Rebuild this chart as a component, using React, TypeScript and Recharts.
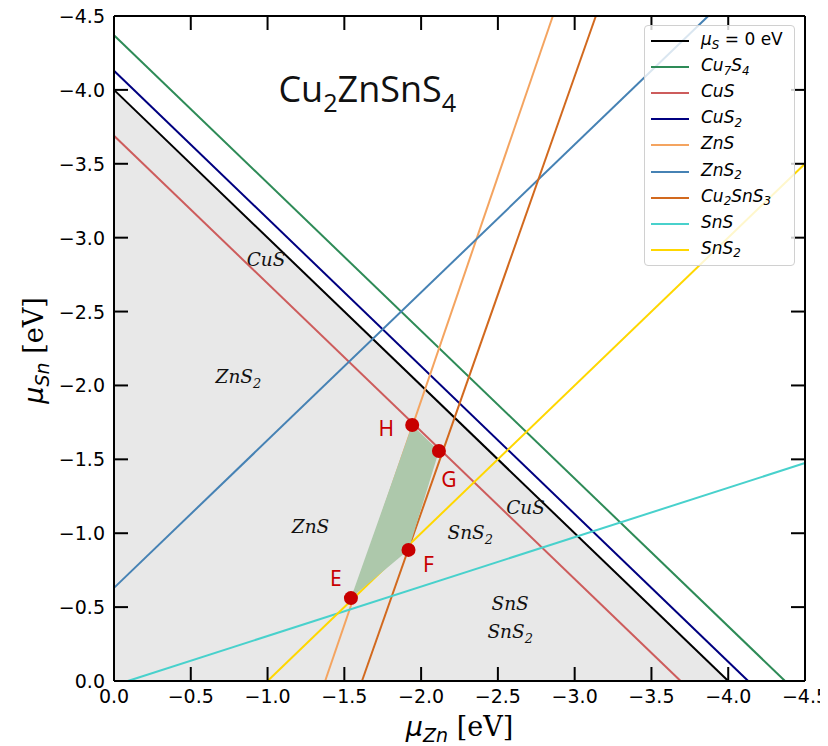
import React from 'react';
import { ComposedChart, Line, Area, Scatter, XAxis, YAxis, Label } from 'recharts';

// ---------- data (μZn, μSn in eV) ----------
const TICKS = [0, -0.5, -1, -1.5, -2, -2.5, -3, -3.5, -4, -4.5];

const MU_S0 = [{ x: 0, y: -4.0 }, { x: -4.0, y: 0 }];
const CU7S4 = [{ x: 0, y: -4.37 }, { x: -4.37, y: 0 }];
const CUS = [{ x: 0, y: -3.69 }, { x: -3.69, y: 0 }];
const CUS2 = [{ x: 0, y: -4.13 }, { x: -4.13, y: 0 }];
const ZNS = [{ x: -1.375, y: 0 }, { x: -2.858, y: -4.5 }];
const ZNS2 = [{ x: 0, y: -0.63 }, { x: -3.87, y: -4.5 }];
const CU2SNS3 = [{ x: -1.615, y: 0 }, { x: -3.138, y: -4.5 }];
const SNS = [{ x: -0.09, y: 0 }, { x: -4.5, y: -1.475 }];
const SNS2 = [{ x: -1.0, y: 0 }, { x: -4.5, y: -3.5 }];

const STABLE_REGION = [{ x: 0, y: -4.0 }, { x: -4.0, y: 0 }];

const CORNER_LABELS = ['E', 'F', 'G', 'H'];
const CORNER_X = [-1.543, -1.918, -2.116, -1.942];
const CORNER_Y = [-0.561, -0.887, -1.556, -1.732];
const CORNERS = CORNER_LABELS.map((label, i) => ({ x: CORNER_X[i], y: CORNER_Y[i], label }));

const REGION_TEXT = ['CuS', 'ZnS_2', 'ZnS', 'SnS_2', 'CuS', 'SnS', 'SnS_2'];
const REGION_X = [-0.99, -0.81, -1.28, -2.32, -2.68, -2.58, -2.58];
const REGION_Y = [-2.85, -2.06, -1.04, -1.0, -1.17, -0.52, -0.33];
const REGIONS = REGION_TEXT.map((t, i) => ({ x: REGION_X[i], y: REGION_Y[i], text: t }));

const SERIES_NAMES = ['μ_S = 0 eV', 'Cu_7S_4', 'CuS', 'CuS_2', 'ZnS', 'ZnS_2', 'Cu_2SnS_3', 'SnS', 'SnS_2'];
const SERIES_DATA = [MU_S0, CU7S4, CUS, CUS2, ZNS, ZNS2, CU2SNS3, SNS, SNS2];
const SERIES_COLORS = ['#000000', '#2e8b57', '#cd5c5c', '#000080', '#f4a460', '#4682b4', '#d2691e', '#48d1cc', '#ffd700'];

const TITLE = 'Cu_2ZnSnS_4';
const TITLE_POS = [{ x: -1.65, y: -3.92 }];

// inward tick marks on all four sides of the frame (from the tick values)
const X_MIN = -4.5;
const TICK_MARKS = [
  ...TICKS.map((t) => ({ x: t, y: 0, side: 'bottom' })),
  ...TICKS.map((t) => ({ x: t, y: X_MIN, side: 'top' })),
  ...TICKS.map((t) => ({ x: 0, y: t, side: 'left' })),
  ...TICKS.map((t) => ({ x: X_MIN, y: t, side: 'right' })),
];

// ---------- styles ----------
const W = 820;
const H = 738;
const LABEL_OFFSETS: Record<string, [number, number]> = {
  E: [-15, -20],
  F: [20, 15],
  G: [10, 28],
  H: [-26, 3],
};
const RED = '#c80000';
const TICK_LEN = 14;
const TICK_W = 2;
const TICK_FONT = { fontFamily: 'DejaVu Sans', fontSize: 19, fill: '#000' };
const TICK_DIR: Record<string, [number, number]> = {
  bottom: [0, -1],
  top: [0, 1],
  left: [1, 0],
  right: [-1, 0],
};

function parseRich(s: string) {
  const parts: { t: string; sub: boolean }[] = [];
  let i = 0;
  let cur = '';
  while (i < s.length) {
    if (s[i] === '_') {
      if (cur) parts.push({ t: cur, sub: false });
      cur = '';
      parts.push({ t: s[i + 1], sub: true });
      i += 2;
    } else {
      cur += s[i];
      i++;
    }
  }
  if (cur) parts.push({ t: cur, sub: false });
  return parts;
}

function svgRich(s: string, fs: number) {
  const parts = parseRich(s);
  const shift = fs * 0.28;
  let down = false;
  return parts.map((p, k) => {
    let dy = 0;
    if (p.sub && !down) { dy = shift; down = true; }
    else if (!p.sub && down) { dy = -shift; down = false; }
    return (
      <tspan key={k} dy={dy} fontSize={p.sub ? fs * 0.7 : fs}>{p.t}</tspan>
    );
  });
}

function htmlRich(s: string) {
  const parts = parseRich(s);
  return parts.map((p, k) =>
    p.sub ? (
      <span key={k} style={{ fontSize: '0.7em', position: 'relative', top: '0.3em' }}>{p.t}</span>
    ) : (
      <span key={k}>{p.t}</span>
    )
  );
}

const fmt = (v: number) => (v === 0 ? '0.0' : '\u2212' + Math.abs(v).toFixed(1));

const BottomTick = (p: any) => (
  <text x={p.x} y={p.y + 22} textAnchor="middle" {...TICK_FONT}>{fmt(p.payload.value)}</text>
);
const LeftTick = (p: any) => (
  <text x={p.x - 9} y={p.y + 7} textAnchor="end" {...TICK_FONT}>{fmt(p.payload.value)}</text>
);
const NoTick = () => <g />;

const TickMarkShape = (props: any) => {
  const { cx, cy, payload } = props;
  const [dx, dy] = TICK_DIR[payload.side];
  return (
    <line x1={cx} y1={cy} x2={cx + dx * TICK_LEN} y2={cy + dy * TICK_LEN} stroke="#000" strokeWidth={TICK_W} />
  );
};

const RegionShape = (props: any) => {
  const { cx, cy, payload } = props;
  return (
    <text x={cx} y={cy + 6} textAnchor="middle" fontFamily="DejaVu Serif" fontStyle="italic" fontSize={18.5} fill="#111">
      {svgRich(payload.text, 18.5)}
    </text>
  );
};

const CornerShape = (props: any) => {
  const { cx, cy, payload } = props;
  const [dx, dy] = LABEL_OFFSETS[payload.label];
  return (
    <g>
      <circle cx={cx} cy={cy} r={7} fill={RED} />
      <text x={cx + dx} y={cy + dy + 7.5} textAnchor="middle" fontFamily="Noto Sans" fontSize={21} fill={RED}>
        {payload.label}
      </text>
    </g>
  );
};

const TitleShape = (props: any) => {
  const { cx, cy } = props;
  return (
    <text x={cx} y={cy} textAnchor="middle" fontFamily="Open Sans" fontSize={36} fill="#111">
      {svgRich(TITLE, 36)}
    </text>
  );
};

const XTitle = (props: any) => {
  const vb = props.viewBox || { x: 106, y: 673, width: 691, height: 65 };
  return (
    <text x={vb.x + vb.width / 2} y={vb.y + 55} textAnchor="middle" fontSize={27} fill="#000" fontFamily="DejaVu Serif">
      <tspan fontFamily="DejaVu Sans" fontStyle="italic">μ</tspan>
      <tspan fontFamily="DejaVu Sans" fontStyle="italic" fontSize={19} dy={6}>Zn</tspan>
      <tspan dy={-6}> [eV]</tspan>
    </text>
  );
};

const YTitle = (props: any) => {
  const vb = props.viewBox || { x: 0, y: 8, width: 106, height: 665 };
  const cx = 35;
  const cy = vb.y + vb.height / 2 + 2;
  return (
    <text x={cx} y={cy} transform={`rotate(-90 ${cx} ${cy})`} textAnchor="middle" fontSize={27} fill="#000" fontFamily="DejaVu Serif">
      <tspan fontFamily="DejaVu Sans" fontStyle="italic">μ</tspan>
      <tspan fontFamily="DejaVu Sans" fontStyle="italic" fontSize={19} dy={6}>Sn</tspan>
      <tspan dy={-6}> [eV]</tspan>
    </text>
  );
};

const LegendBox = () => (
  <div
    style={{
      position: 'absolute',
      left: 636,
      top: 17,
      width: 149,
      height: 239,
      border: '1px solid #d0d0d0',
      borderRadius: 4,
      background: 'rgba(255,255,255,0.8)',
      fontFamily: 'DejaVu Sans',
      fontSize: 17,
    }}
  >
    {SERIES_NAMES.map((name, i) => (
      <div key={name} style={{ position: 'absolute', left: 0, top: 2 + i * 26.1, height: 26, width: 149 }}>
        <div style={{ position: 'absolute', left: 6, top: 12, width: 38, height: 2, background: SERIES_COLORS[i] }} />
        <div style={{ position: 'absolute', left: 56, top: 1, whiteSpace: 'nowrap', lineHeight: '20px' }}>
          {i === 0 ? (
            <span>
              <i>μ</i>
              <i style={{ fontSize: '0.7em', position: 'relative', top: '0.3em' }}>S</i>
              <span> = 0 eV</span>
            </span>
          ) : (
            <i>{htmlRich(name)}</i>
          )}
        </div>
      </div>
    ))}
  </div>
);

const frame = { stroke: '#000', strokeWidth: 2 };

export default function App() {
  return (
    <div style={{ position: 'relative', width: W, height: H }}>
      <style>{'.recharts-surface, svg { overflow: visible; }'}</style>
      <ComposedChart width={W} height={H} margin={{ top: 7, right: 22, bottom: 0, left: 0 }}>
        <Area
          data={STABLE_REGION}
          dataKey="y"
          type="linear"
          baseValue={0}
          fill="#e8e8e8"
          fillOpacity={1}
          stroke="none"
          isAnimationActive={false}
          legendType="none"
        />
        <Scatter
          data={CORNERS}
          dataKey="y"
          fill="#adc8ab"
          line={{ fill: '#adc8ab', stroke: 'none' }}
          lineJointType="linear"
          shape={() => <g />}
          isAnimationActive={false}
          legendType="none"
        />
        {SERIES_DATA.map((d, i) => (
          <Line
            key={SERIES_NAMES[i]}
            data={d}
            dataKey="y"
            name={SERIES_NAMES[i]}
            type="linear"
            stroke={SERIES_COLORS[i]}
            strokeWidth={2}
            dot={false}
            activeDot={false}
            isAnimationActive={false}
          />
        ))}
        <Line
          xAxisId="top"
          yAxisId="right"
          data={MU_S0}
          dataKey="y"
          stroke="none"
          dot={false}
          activeDot={false}
          isAnimationActive={false}
          legendType="none"
        />
        <Scatter data={REGIONS} dataKey="y" shape={RegionShape} isAnimationActive={false} legendType="none" />
        <Scatter data={TITLE_POS} dataKey="y" shape={TitleShape} isAnimationActive={false} legendType="none" />
        <Scatter data={CORNERS} dataKey="y" shape={CornerShape} isAnimationActive={false} legendType="none" />
        <Scatter data={TICK_MARKS} dataKey="y" shape={TickMarkShape} isAnimationActive={false} legendType="none" />
        <XAxis
          dataKey="x"
          type="number"
          domain={[-4.5, 0]}
          reversed
          ticks={TICKS}
          height={65}
          tickSize={0}
          tickMargin={0}
          tick={BottomTick}
          tickLine={false}
          axisLine={frame}
          interval={0}
        >
          <Label content={XTitle} />
        </XAxis>
        <XAxis
          xAxisId="top"
          orientation="top"
          dataKey="x"
          type="number"
          domain={[-4.5, 0]}
          reversed
          ticks={TICKS}
          height={1}
          tickSize={0}
          tickMargin={0}
          tick={NoTick}
          tickLine={false}
          axisLine={frame}
          interval={0}
        />
        <YAxis
          dataKey="y"
          type="number"
          domain={[-4.5, 0]}
          reversed
          ticks={TICKS}
          width={106}
          tickSize={0}
          tickMargin={0}
          tick={LeftTick}
          tickLine={false}
          axisLine={frame}
          interval={0}
        >
          <Label content={YTitle} />
        </YAxis>
        <YAxis
          yAxisId="right"
          orientation="right"
          dataKey="y"
          type="number"
          domain={[-4.5, 0]}
          reversed
          ticks={TICKS}
          width={1}
          tickSize={0}
          tickMargin={0}
          tick={NoTick}
          tickLine={false}
          axisLine={frame}
          interval={0}
        />
      </ComposedChart>
      <LegendBox />
    </div>
  );
}
